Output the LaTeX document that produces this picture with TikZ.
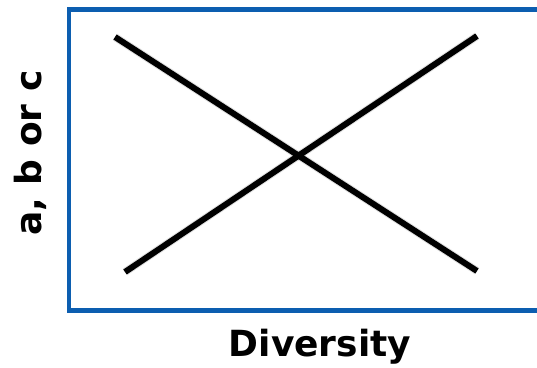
\documentclass[tikz,border=0pt]{standalone}
\usepackage{fontspec}
\setmainfont{DejaVu Sans}
\definecolor{frameblue}{RGB}{12,94,176}
\tikzset{
  xline/.style={line width=6pt, black, line cap=butt},
  xshadow/.style={line width=8pt, black, opacity=0.12, line cap=butt},
  axislabel/.style={font=\bfseries\fontsize{36}{40}\selectfont, inner sep=0pt, anchor=base}
}
\begin{document}
\begin{tikzpicture}[x=1pt,y=-1pt]
\useasboundingbox (0,0) rectangle (537,367);
\clip (0,0) rectangle (537,367);
\draw[frameblue, line width=4.5pt] (545,9.5) -- (69,9.5) -- (69,310.5) -- (545,310.5);
\coordinate (tl) at (115,37);
\coordinate (tr) at (477,36);
\coordinate (bl) at (125,272);
\coordinate (br) at (477,271);
\begin{scope}[shift={(2.5,3)}]
\draw[xshadow] (tl) -- (br);
\draw[xshadow] (bl) -- (tr);
\end{scope}
\draw[xline] (tl) -- (br);
\draw[xline] (bl) -- (tr);
\node[axislabel] (xl) at (320,356.5) {Diversity};
\node[axislabel, rotate=90] (yl) at (41,153) {a, b or c};
\end{tikzpicture}
\end{document}
